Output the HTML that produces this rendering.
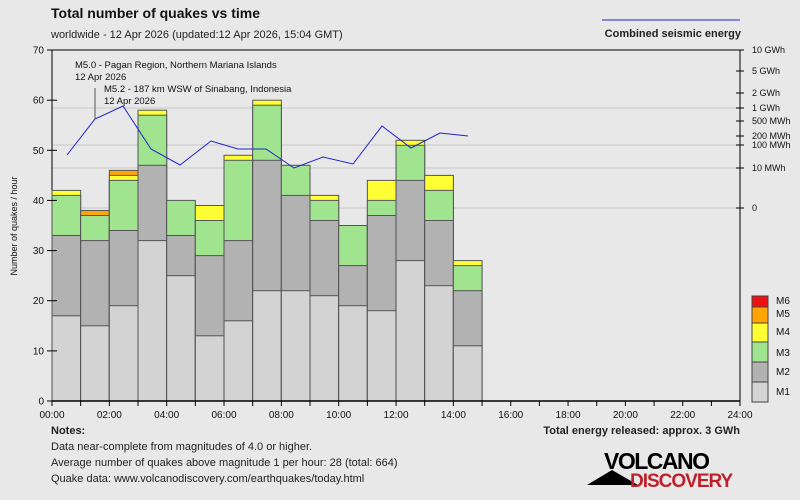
<!DOCTYPE html>
<html><head><meta charset="utf-8"><style>
body{margin:0;background:#e8e8e8;}
svg{display:block;font-family:"Liberation Sans",sans-serif;}
</style></head><body>
<svg width="800" height="500" viewBox="0 0 800 500" xmlns="http://www.w3.org/2000/svg">
<rect width="800" height="500" fill="#e8e8e8"/>
<text x="51" y="18" font-size="14" font-weight="bold" fill="#111">Total number of quakes vs time</text>
<text x="51" y="38" font-size="11" fill="#222">worldwide - 12 Apr 2026 (updated:12 Apr 2026, 15:04 GMT)</text>
<line x1="602" y1="20" x2="740" y2="20" stroke="#2222cc" stroke-width="1"/>
<text x="741" y="37" font-size="11" font-weight="bold" fill="#222" text-anchor="end">Combined seismic energy</text>
<g stroke="#d2d2d2" stroke-width="1.5">
<line x1="52" y1="108" x2="737" y2="108"/><line x1="52" y1="145" x2="737" y2="145"/>
<line x1="52" y1="168" x2="737" y2="168"/><line x1="52" y1="208" x2="737" y2="208"/>
</g>
<line x1="52" y1="50" x2="740" y2="50" stroke="#000"/>
<line x1="740" y1="50" x2="740" y2="401" stroke="#000"/>
<line x1="52" y1="50" x2="52" y2="401" stroke="#000"/>
<g stroke="#555" stroke-width="1">
<!-- hour 0 -->
<rect x="52" y="190.4" width="28.67" height="210.6" fill="#ffff33"/>
<rect x="52" y="195.4" width="28.67" height="205.6" fill="#a0e490"/>
<rect x="52" y="235.5" width="28.67" height="165.5" fill="#b2b2b2"/>
<rect x="52" y="315.8" width="28.67" height="85.2" fill="#d3d3d3"/>
<!-- 1 -->
<rect x="80.67" y="210.5" width="28.67" height="190.5" fill="#ffa500"/>
<rect x="80.67" y="215.5" width="28.67" height="185.5" fill="#a0e490"/>
<rect x="80.67" y="240.6" width="28.67" height="160.4" fill="#b2b2b2"/>
<rect x="80.67" y="325.8" width="28.67" height="75.2" fill="#d3d3d3"/>
<!-- 2 -->
<rect x="109.34" y="170.4" width="28.67" height="230.6" fill="#ffa500"/>
<rect x="109.34" y="175.4" width="28.67" height="225.6" fill="#ffff33"/>
<rect x="109.34" y="180.4" width="28.67" height="220.6" fill="#a0e490"/>
<rect x="109.34" y="230.5" width="28.67" height="170.5" fill="#b2b2b2"/>
<rect x="109.34" y="305.7" width="28.67" height="95.3" fill="#d3d3d3"/>
<!-- 3 -->
<rect x="138.01" y="110.2" width="28.67" height="290.8" fill="#ffff33"/>
<rect x="138.01" y="115.2" width="28.67" height="285.8" fill="#a0e490"/>
<rect x="138.01" y="165.3" width="28.67" height="235.7" fill="#b2b2b2"/>
<rect x="138.01" y="240.6" width="28.67" height="160.4" fill="#d3d3d3"/>
<!-- 4 -->
<rect x="166.68" y="200.4" width="28.67" height="200.6" fill="#a0e490"/>
<rect x="166.68" y="235.5" width="28.67" height="165.5" fill="#b2b2b2"/>
<rect x="166.68" y="275.7" width="28.67" height="125.3" fill="#d3d3d3"/>
<!-- 5 -->
<rect x="195.35" y="205.5" width="28.67" height="195.5" fill="#ffff33"/>
<rect x="195.35" y="220.5" width="28.67" height="180.5" fill="#a0e490"/>
<rect x="195.35" y="255.6" width="28.67" height="145.4" fill="#b2b2b2"/>
<rect x="195.35" y="335.8" width="28.67" height="65.2" fill="#d3d3d3"/>
<!-- 6 -->
<rect x="224.02" y="155.3" width="28.67" height="245.7" fill="#ffff33"/>
<rect x="224.02" y="160.3" width="28.67" height="240.7" fill="#a0e490"/>
<rect x="224.02" y="240.6" width="28.67" height="160.4" fill="#b2b2b2"/>
<rect x="224.02" y="320.8" width="28.67" height="80.2" fill="#d3d3d3"/>
<!-- 7 -->
<rect x="252.69" y="100.2" width="28.67" height="300.8" fill="#ffff33"/>
<rect x="252.69" y="105.2" width="28.67" height="295.8" fill="#a0e490"/>
<rect x="252.69" y="160.3" width="28.67" height="240.7" fill="#b2b2b2"/>
<rect x="252.69" y="290.7" width="28.67" height="110.3" fill="#d3d3d3"/>
<!-- 8 -->
<rect x="281.36" y="165.3" width="28.67" height="235.7" fill="#a0e490"/>
<rect x="281.36" y="195.4" width="28.67" height="205.6" fill="#b2b2b2"/>
<rect x="281.36" y="290.7" width="28.67" height="110.3" fill="#d3d3d3"/>
<!-- 9 -->
<rect x="310.03" y="195.4" width="28.67" height="205.6" fill="#ffff33"/>
<rect x="310.03" y="200.4" width="28.67" height="200.6" fill="#a0e490"/>
<rect x="310.03" y="220.5" width="28.67" height="180.5" fill="#b2b2b2"/>
<rect x="310.03" y="295.7" width="28.67" height="105.3" fill="#d3d3d3"/>
<!-- 10 -->
<rect x="338.7" y="225.5" width="28.67" height="175.5" fill="#a0e490"/>
<rect x="338.7" y="265.6" width="28.67" height="135.4" fill="#b2b2b2"/>
<rect x="338.7" y="305.7" width="28.67" height="95.3" fill="#d3d3d3"/>
<!-- 11 -->
<rect x="367.37" y="180.4" width="28.67" height="220.6" fill="#ffff33"/>
<rect x="367.37" y="200.4" width="28.67" height="200.6" fill="#a0e490"/>
<rect x="367.37" y="215.5" width="28.67" height="185.5" fill="#b2b2b2"/>
<rect x="367.37" y="310.7" width="28.67" height="90.3" fill="#d3d3d3"/>
<!-- 12 -->
<rect x="396.04" y="140.3" width="28.67" height="260.7" fill="#ffff33"/>
<rect x="396.04" y="145.3" width="28.67" height="255.7" fill="#a0e490"/>
<rect x="396.04" y="180.4" width="28.67" height="220.6" fill="#b2b2b2"/>
<rect x="396.04" y="260.6" width="28.67" height="140.4" fill="#d3d3d3"/>
<!-- 13 -->
<rect x="424.71" y="175.4" width="28.67" height="225.6" fill="#ffff33"/>
<rect x="424.71" y="190.4" width="28.67" height="210.6" fill="#a0e490"/>
<rect x="424.71" y="220.5" width="28.67" height="180.5" fill="#b2b2b2"/>
<rect x="424.71" y="285.7" width="28.67" height="115.3" fill="#d3d3d3"/>
<!-- 14 -->
<rect x="453.38" y="260.6" width="28.67" height="140.4" fill="#ffff33"/>
<rect x="453.38" y="265.6" width="28.67" height="135.4" fill="#a0e490"/>
<rect x="453.38" y="290.7" width="28.67" height="110.3" fill="#b2b2b2"/>
<rect x="453.38" y="345.8" width="28.67" height="55.2" fill="#d3d3d3"/>
</g>
<line x1="52" y1="401" x2="740" y2="401" stroke="#000" stroke-width="1.5"/>
<g stroke="#000">
<line x1="52" y1="401" x2="52" y2="406"/><line x1="80.67" y1="401" x2="80.67" y2="406"/><line x1="109.34" y1="401" x2="109.34" y2="406"/><line x1="138.01" y1="401" x2="138.01" y2="406"/><line x1="166.68" y1="401" x2="166.68" y2="406"/><line x1="195.35" y1="401" x2="195.35" y2="406"/><line x1="224.02" y1="401" x2="224.02" y2="406"/><line x1="252.69" y1="401" x2="252.69" y2="406"/><line x1="281.36" y1="401" x2="281.36" y2="406"/><line x1="310.03" y1="401" x2="310.03" y2="406"/><line x1="338.7" y1="401" x2="338.7" y2="406"/><line x1="367.37" y1="401" x2="367.37" y2="406"/><line x1="396.04" y1="401" x2="396.04" y2="406"/><line x1="424.71" y1="401" x2="424.71" y2="406"/><line x1="453.38" y1="401" x2="453.38" y2="406"/><line x1="482.05" y1="401" x2="482.05" y2="406"/><line x1="510.72" y1="401" x2="510.72" y2="406"/><line x1="539.39" y1="401" x2="539.39" y2="406"/><line x1="568.06" y1="401" x2="568.06" y2="406"/><line x1="596.73" y1="401" x2="596.73" y2="406"/><line x1="625.4" y1="401" x2="625.4" y2="406"/><line x1="654.07" y1="401" x2="654.07" y2="406"/><line x1="682.74" y1="401" x2="682.74" y2="406"/><line x1="711.41" y1="401" x2="711.41" y2="406"/><line x1="740" y1="401" x2="740" y2="406"/>
<line x1="47" y1="401" x2="57" y2="401"/><line x1="47" y1="350.9" x2="57" y2="350.9"/><line x1="47" y1="300.7" x2="57" y2="300.7"/><line x1="47" y1="250.6" x2="57" y2="250.6"/><line x1="47" y1="200.4" x2="57" y2="200.4"/><line x1="47" y1="150.3" x2="57" y2="150.3"/><line x1="47" y1="100.2" x2="57" y2="100.2"/><line x1="47" y1="50" x2="57" y2="50"/>
</g>
<g font-size="10" fill="#111" text-anchor="middle">
<text x="52" y="418">00:00</text><text x="109.34" y="418">02:00</text><text x="166.68" y="418">04:00</text><text x="224.02" y="418">06:00</text><text x="281.36" y="418">08:00</text><text x="338.7" y="418">10:00</text><text x="396.04" y="418">12:00</text><text x="453.38" y="418">14:00</text><text x="510.72" y="418">16:00</text><text x="568.06" y="418">18:00</text><text x="625.4" y="418">20:00</text><text x="682.74" y="418">22:00</text><text x="740" y="418">24:00</text>
</g>
<g font-size="10" fill="#111" text-anchor="end">
<text x="44" y="404.5">0</text><text x="44" y="354.4">10</text><text x="44" y="304.2">20</text><text x="44" y="254.1">30</text><text x="44" y="203.9">40</text><text x="44" y="153.8">50</text><text x="44" y="103.7">60</text><text x="44" y="53.5">70</text>
</g>
<polyline fill="none" stroke="#2222cc" stroke-width="1" points="67,155 95,119 123,106 151,149 180,165 211,141 238,149 266,149 294,168 323,157 353,164 382,126 411,148 440,133 468,136"/>
<line x1="95" y1="88" x2="95" y2="119" stroke="#555"/>
<g font-size="9.5" fill="#111">
<text x="75" y="68">M5.0 - Pagan Region, Northern Mariana Islands</text>
<text x="75" y="80">12 Apr 2026</text>
<text x="104" y="92">M5.2 - 187 km WSW of Sinabang, Indonesia</text>
<text x="104" y="104">12 Apr 2026</text>
</g>
<g font-size="9" fill="#111">
<text x="752" y="53">10 GWh</text><text x="752" y="74">5 GWh</text><text x="752" y="96">2 GWh</text>
<text x="752" y="111">1 GWh</text><text x="752" y="124">500 MWh</text><text x="752" y="139">200 MWh</text>
<text x="752" y="148">100 MWh</text><text x="752" y="171">10 MWh</text><text x="752" y="211">0</text>
</g>
<g stroke="#000"><line x1="736" y1="71" x2="744" y2="71"/><line x1="736" y1="93" x2="744" y2="93"/><line x1="736" y1="108" x2="744" y2="108"/><line x1="736" y1="121" x2="744" y2="121"/><line x1="736" y1="136" x2="744" y2="136"/><line x1="736" y1="145" x2="744" y2="145"/><line x1="736" y1="168" x2="744" y2="168"/><line x1="736" y1="208" x2="744" y2="208"/><line x1="740" y1="50" x2="744" y2="50"/></g>
<text transform="translate(17,226) rotate(-90)" font-size="9" fill="#111" text-anchor="middle">Number of quakes / hour</text>
<g stroke="#444">
<rect x="752" y="296" width="16" height="11" fill="#ee1111"/>
<rect x="752" y="307" width="16" height="16" fill="#ffa500"/>
<rect x="752" y="323" width="16" height="19" fill="#ffff33"/>
<rect x="752" y="342" width="16" height="20" fill="#a0e490"/>
<rect x="752" y="362" width="16" height="20" fill="#b2b2b2"/>
<rect x="752" y="382" width="16" height="20" fill="#d3d3d3"/>
</g>
<g font-size="10" fill="#111"><text x="776" y="304">M6</text><text x="776" y="317">M5</text><text x="776" y="335">M4</text><text x="776" y="356">M3</text><text x="776" y="375">M2</text><text x="776" y="395">M1</text></g>
<text x="51" y="434" font-size="11" font-weight="bold" fill="#222">Notes:</text>
<g font-size="11" fill="#222">
<text x="51" y="450">Data near-complete from magnitudes of 4.0 or higher.</text>
<text x="51" y="466">Average number of quakes above magnitude 1 per hour: 28 (total: 664)</text>
<text x="51" y="482">Quake data: www.volcanodiscovery.com/earthquakes/today.html</text>
</g>
<text x="740" y="434" font-size="11" font-weight="bold" fill="#222" text-anchor="end">Total energy released: approx. 3 GWh</text>
<text x="604" y="469" font-size="23" font-weight="bold" fill="#000" letter-spacing="-1.5">VOLCANO</text>
<polygon points="587,485 612,470 638,485" fill="#000"/>
<text x="630" y="487" font-size="19" font-weight="bold" fill="#c0202a" letter-spacing="-1">DISCOVERY</text>
</svg>
</body></html>
